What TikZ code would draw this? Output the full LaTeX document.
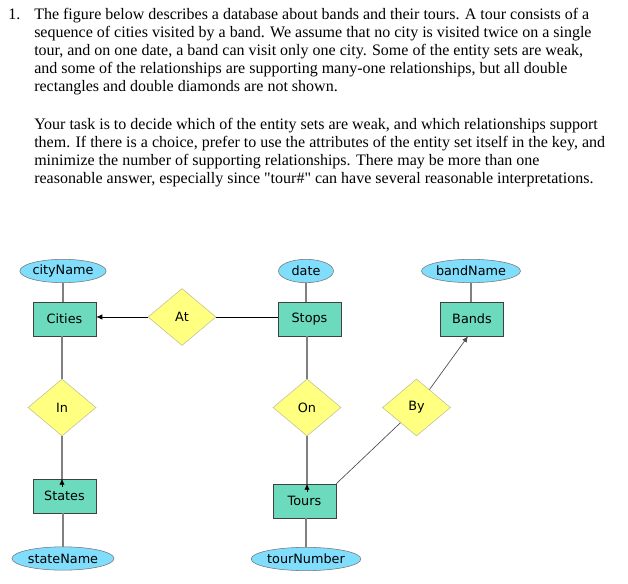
\documentclass[tikz,border=0pt]{standalone}
\usepackage{fontspec}
\setmainfont{Liberation Serif}[Ligatures=TeXOff]
\newfontfamily\diagfont{DejaVu Sans}
\usetikzlibrary{shapes.geometric,arrows.meta}
\definecolor{entfill}{RGB}{108,218,188}
\definecolor{attfill}{RGB}{128,222,252}
\definecolor{relfill}{RGB}{255,255,128}
\definecolor{reldraw}{RGB}{190,190,150}
\begin{document}
\begin{tikzpicture}[x=0.75pt,y=-0.75pt,
  txt/.style={anchor=base west,inner sep=0pt,font=\fontsize{12}{13.5}\selectfont},
  entity/.style={draw=black!75,fill=entfill,minimum width=47.25pt,minimum height=25.5pt,inner sep=0pt,font=\diagfont\fontsize{9.6}{11}\selectfont},
  attr/.style={ellipse,draw=black!55,fill=attfill,minimum height=17.5pt,inner sep=0pt,font=\diagfont\fontsize{9.6}{11}\selectfont},
  rel/.style={diamond,draw=reldraw,fill=relfill,minimum width=51pt,minimum height=42.75pt,inner sep=0pt,aspect=1.2,font=\diagfont\fontsize{9.6}{11}\selectfont},
  conn/.style={draw=black!50,line width=1.1pt},
  thinline/.style={draw=black,line width=0.6pt},
  slant/.style={draw=black!70,line width=0.5pt},
  tip/.style={-{Latex[length=4.5pt,width=4pt]}}
]
\useasboundingbox (0,0) rectangle (628,584);

% question text
\node[txt] (num) at (8,20) {1.};
\node[txt] (t1) at (34,20) {The figure below describes a database about bands and their tours. A tour consists of a};
\node[txt] (t2) at (34,38) {sequence of cities visited by a band. We assume that no city is visited twice on a single};
\node[txt] (t3) at (34,56) {tour, and on one date, a band can visit only one city. Some of the entity sets are weak,};
\node[txt] (t4) at (34,74) {and some of the relationships are supporting many-one relationships, but all double};
\node[txt] (t5) at (34,92) {rectangles and double diamonds are not shown.};
\node[txt] (t6) at (34,130) {Your task is to decide which of the entity sets are weak, and which relationships support};
\node[txt] (t7) at (34,148) {them. If there is a choice, prefer to use the attributes of the entity set itself in the key, and};
\node[txt] (t8) at (34,166) {minimize the number of supporting relationships. There may be more than one};
\node[txt] (t9) at (34,184) {reasonable answer, especially since "tour\#" can have several reasonable interpretations.};

% entities
\node[entity] (Cities) at (64.5,319) {Cities};
\node[entity] (Stops) at (309.5,319) {Stops};
\node[entity] (Bands) at (472,319) {Bands};
\node[entity] (States) at (64.5,496) {States};
\node[entity] (Tours) at (304.5,501) {Tours};

% attributes
\node[attr,minimum width=62.25pt] (cityName) at (63,271) {cityName};
\node[attr,minimum width=41.25pt] (date) at (306,271) {date};
\node[attr,minimum width=70pt] (bandName) at (471,271) {bandName};
\node[attr,minimum width=76.5pt] (stateName) at (63,558.5) {stateName};
\node[attr,minimum width=72.75pt] (tourNumber) at (306,559) {tourNumber};

% relationships
\node[rel] (At) at (182,317) {At};
\node[rel] (In) at (62,407.5) {In};
\node[rel] (On) at (307,407.5) {On};
\node[rel] (By) at (416.5,407.5) {By};

% connectors
\draw[conn] (cityName.south) -- (cityName.south |- Cities.north);
\draw[conn] (date.south) -- (date.south |- Stops.north);
\draw[conn] (bandName.south) -- (bandName.south |- Bands.north);
\draw[conn] (In.north |- Cities.south) -- (In.north);
\draw[conn] (In.south) -- (In.south |- States.north);
\draw[thinline,tip] ([yshift=-6pt]In.south |- States.north) -- (In.south |- States.north);
\draw[conn] (On.north |- Stops.south) -- (On.north);
\draw[conn] (On.south) -- (On.south |- Tours.north);
\draw[thinline,tip] ([yshift=-6pt]On.south |- Tours.north) -- (On.south |- Tours.north);
\draw[conn] (States.south -| stateName.north) -- (stateName.north);
\draw[conn] (Tours.south -| tourNumber.north) -- (tourNumber.north);
\draw[thinline,tip] (At.west) -- (At.west -| Cities.east);
\draw[thinline] (At.east) -- (At.east -| Stops.west);
\draw[slant] (Tours.north east) -- (By);
\draw[slant,tip] (By) -- ([xshift=-3pt]Bands.south);
\end{tikzpicture}
\end{document}
